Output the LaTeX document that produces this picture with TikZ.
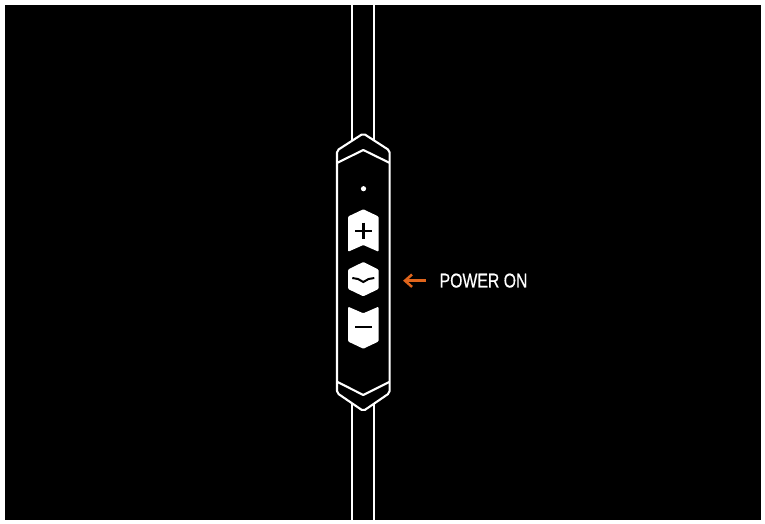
\documentclass[tikz,border=0pt]{standalone}
\usepackage{fontspec}
\setmainfont{Liberation Sans}
\newfontfamily\labelfont[FakeBold=0.6]{Liberation Sans}
\definecolor{arroworange}{HTML}{E0651C}
\tikzset{
  outline/.style={draw=white,line width=2.1pt,line join=round},
  btnfill/.style={fill=white,draw=none,rounded corners=1pt},
  glyph/.style={draw=black,line width=2.1pt},
  label/.style={text=white,font=\labelfont\fontsize{20}{20}\selectfont,inner sep=0pt,anchor=west,xscale=0.79},
}
\begin{document}
\begin{tikzpicture}[x=1pt,y=-1pt]
\useasboundingbox (0,0) rectangle (765,524);
\fill[white] (0,0) rectangle (765,524);
\fill[black] (5,5) rectangle (761,520);
% cable
\draw[outline] (352.3,5) -- (352.3,140.5);
\draw[outline] (373.6,5) -- (373.6,140.5);
\draw[outline] (352.3,404) -- (352.3,520);
\draw[outline] (373.6,404) -- (373.6,520);
% body
\draw[outline,rounded corners=2pt] (363.3,133.5) -- (389.6,150.5) -- (389.6,393) -- (363.3,411) -- (337,393) -- (337,150.5) -- cycle;
\draw[outline] (337.5,162.7) -- (363.3,150) -- (389.2,162.7);
\draw[outline] (337.5,382) -- (363.3,395) -- (389.2,382);
% led
\fill[white] (363.5,188.7) circle (2.6pt);
% plus
\fill[btnfill] (363.3,209.3) -- (378.5,216.5) -- (378.5,251.7) -- (363.3,245) -- (348.1,251.7) -- (348.1,216.5) -- cycle;
\draw[glyph] (355,230.7) -- (372,230.7) (363.5,222.5) -- (363.5,239);
% middle
\fill[btnfill] (363.3,262) -- (378.5,269.5) -- (378.5,289) -- (363.3,296.3) -- (348.1,289) -- (348.1,269.5) -- cycle;
\draw[draw=black,line width=2pt] (352.3,278) -- (358,279) -- (363.3,282) -- (368.6,279) -- (374.3,278);
% minus
\fill[btnfill] (348.1,306.7) -- (363.3,313.3) -- (378.5,306.7) -- (378.5,341.5) -- (363.3,348.7) -- (348.1,341.5) -- cycle;
\draw[glyph] (355,327.3) -- (372,327.3);
% arrow and label
\node[label] (poweron) at (439.5,280.6) {POWER ON};
\coordinate (arrowstart) at (426,280.7);
\coordinate (arrowend) at (405,280.7);
\draw[arroworange,line width=2.5pt] (arrowstart) -- (arrowend);
\draw[arroworange,line width=2.5pt,line join=miter] (412,274.5) -- (arrowend) -- (412,286.9);
\end{tikzpicture}
\end{document}
